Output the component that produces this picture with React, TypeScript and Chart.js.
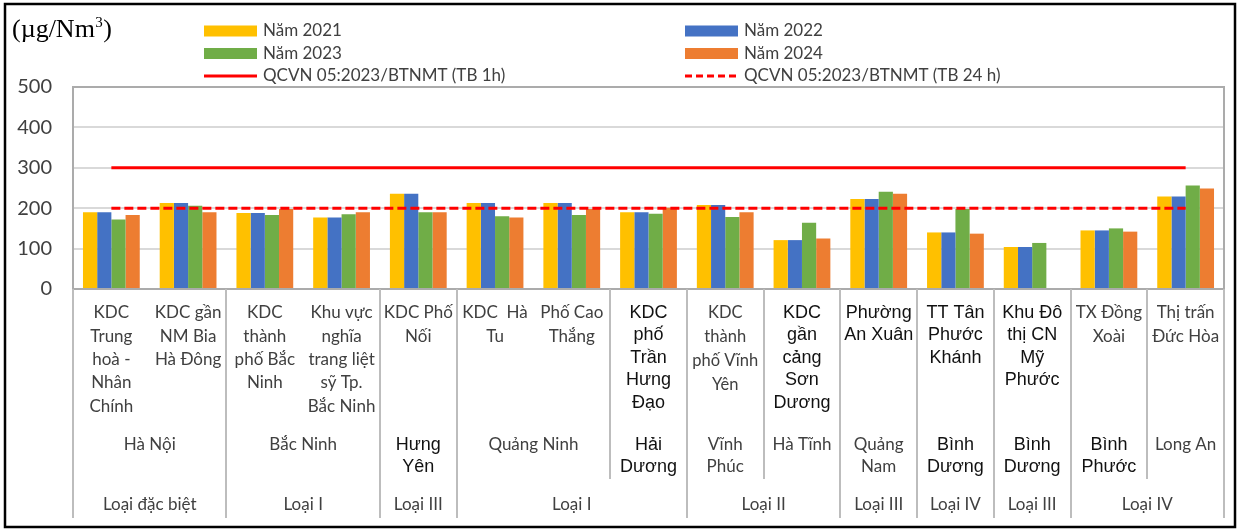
import React, { useEffect, useRef } from 'react';
import { Chart, registerables } from 'chart.js';

Chart.register(...registerables);

// ---------------- DATA ----------------
const siteLabels: string[][] = [
  ['KDC', 'Trung', 'hoà -', 'Nhân', 'Chính'],
  ['KDC gần', 'NM Bia', 'Hà Đông'],
  ['KDC', 'thành', 'phố Bắc', 'Ninh'],
  ['Khu vực', 'nghĩa', 'trang liệt', 'sỹ Tp.', 'Bắc Ninh'],
  ['KDC Phố', 'Nối'],
  ['KDC  Hà', 'Tu'],
  ['Phố Cao', 'Thắng'],
  ['KDC', 'phố', 'Trần', 'Hưng', 'Đạo'],
  ['KDC', 'thành', 'phố Vĩnh', 'Yên'],
  ['KDC', 'gần', 'cảng', 'Sơn', 'Dương'],
  ['Phường', 'An Xuân'],
  ['TT Tân', 'Phước', 'Khánh'],
  ['Khu Đô', 'thị CN', 'Mỹ', 'Phước'],
  ['TX Đồng', 'Xoài'],
  ['Thị trấn', 'Đức Hòa'],
];

const provinceNames: string[][] = [
  ['Hà Nội'], ['Bắc Ninh'], ['Hưng', 'Yên'], ['Quảng Ninh'], ['Hải', 'Dương'],
  ['Vĩnh', 'Phúc'], ['Hà Tĩnh'], ['Quảng', 'Nam'], ['Bình', 'Dương'],
  ['Bình', 'Dương'], ['Bình', 'Phước'], ['Long An'],
];
const provinceSpans = [2, 2, 1, 2, 1, 1, 1, 1, 1, 1, 1, 1];

const classNames = ['Loại đặc biệt', 'Loại I', 'Loại III', 'Loại I', 'Loại II', 'Loại III', 'Loại IV', 'Loại III', 'Loại IV'];
const classSpans = [2, 2, 1, 3, 2, 1, 1, 1, 2];

const yearLabels = ['Năm 2021', 'Năm 2022', 'Năm 2023', 'Năm 2024'];
const values2021 = [190, 213, 188, 177, 236, 213, 213, 190, 208, 121, 223, 140, 104, 145, 229];
const values2022 = [190, 213, 188, 177, 236, 213, 213, 190, 208, 121, 223, 140, 104, 145, 229];
const values2023 = [172, 206, 183, 185, 190, 180, 183, 186, 178, 164, 241, 198, 114, 150, 256];
const values2024 = [183, 190, 198, 190, 190, 177, 198, 201, 190, 125, 236, 137, null, 142, 249];

const limitLabels = ['QCVN 05:2023/BTNMT (TB 1h)', 'QCVN 05:2023/BTNMT (TB 24 h)'];
const limit1h = [300, 300, 300, 300, 300, 300, 300, 300, 300, 300, 300, 300, 300, 300, 300];
const limit24h = [200, 200, 200, 200, 200, 200, 200, 200, 200, 200, 200, 200, 200, 200, 200];

const yMin = 0;
const yMax = 500;
const yStep = 100;
const unitText = '(µg/Nm';
const unitSup = '3';
const unitClose = ')';

// ---------------- STYLE ----------------
const BAR_COLORS = ['#FFC000', '#4472C4', '#70AD47', '#ED7D31'];
const LIMIT_COLOR = '#FF0000';
const CAL = 'Lato, "Open Sans", sans-serif';
const ARI = '"Liberation Sans", Arial, sans-serif';
const TEXT_GREY = '#404040';
const siteKind = ['c', 'c', 'c', 'c', 'c', 'c', 'c', 'a', 's', 'a', 'a', 'a', 'a', 'c', 'c'];
const provinceKind = ['c', 'c', 'a', 'c', 'a', 'c', 'c', 'c', 'a', 'a', 'a', 'c'];

function fontFor(kind: string): { font: string; color: string; lh: number } {
  if (kind === 'a') return { font: `18px ${ARI}`, color: '#111111', lh: 22.5 };
  if (kind === 's') return { font: `16.5px ${CAL}`, color: TEXT_GREY, lh: 24 };
  return { font: `17px ${CAL}`, color: TEXT_GREY, lh: 23.3 };
}

const overlayPlugin = {
  id: 'overlay',
  beforeDatasetsDraw(chart: any) {
    const { ctx, chartArea: a } = chart;
    ctx.save();
    ctx.strokeStyle = '#ababab';
    ctx.lineWidth = 2;
    ctx.strokeRect(a.left, a.top, a.right - a.left, a.bottom - a.top);
    ctx.restore();
  },
  afterDraw(chart: any) {
    const { ctx, chartArea: a } = chart;
    const xs = chart.scales.x;
    const half = (xs.getPixelForValue(1) - xs.getPixelForValue(0)) / 2;
    const edge = (i: number) => xs.getPixelForValue(i) - half;
    ctx.save();

    // outer frame
    ctx.strokeStyle = '#000000';
    ctx.lineWidth = 2.5;
    ctx.strokeRect(5, 4, 1230, 523);

    // unit title
    ctx.fillStyle = '#000000';
    ctx.textBaseline = 'middle';
    ctx.textAlign = 'left';
    ctx.font = '26px "Liberation Serif", "Times New Roman", serif';
    ctx.fillText(unitText, 12, 30);
    const w = ctx.measureText(unitText).width;
    ctx.font = '15px "Liberation Serif", "Times New Roman", serif';
    ctx.fillText(unitSup, 12 + w + 0.5, 23);
    const w2 = ctx.measureText(unitSup).width;
    ctx.font = '26px "Liberation Serif", "Times New Roman", serif';
    ctx.fillText(unitClose, 12 + w + w2 + 1, 30);

    // legend
    const legendCols = [204, 685];
    const legendRows = [31, 53.5, 76];
    ctx.font = `17px ${CAL}`;
    yearLabels.forEach((lab, i) => {
      const cx = legendCols[i % 2];
      const cy = legendRows[Math.floor(i / 2)];
      ctx.fillStyle = BAR_COLORS[i];
      ctx.fillRect(cx, cy - 5.5, 53, 11);
      ctx.fillStyle = TEXT_GREY;
      ctx.fillText(lab, cx + 59, cy);
    });
    limitLabels.forEach((lab, i) => {
      const cx = legendCols[i];
      const cy = legendRows[2];
      ctx.strokeStyle = LIMIT_COLOR;
      ctx.lineWidth = 3;
      ctx.setLineDash(i === 0 ? [] : [7, 4]);
      ctx.beginPath();
      ctx.moveTo(cx, cy);
      ctx.lineTo(cx + 53, cy);
      ctx.stroke();
      ctx.setLineDash([]);
      ctx.fillStyle = TEXT_GREY;
      ctx.fillText(lab, cx + 59, cy);
    });

    // separators
    const classEdges = new Set<number>([0]);
    let acc = 0;
    classSpans.forEach((s) => { acc += s; classEdges.add(acc); });
    const provEdges = new Set<number>([0]);
    acc = 0;
    provinceSpans.forEach((s) => { acc += s; provEdges.add(acc); });
    ctx.strokeStyle = '#bdbdbd';
    ctx.lineWidth = 2;
    for (let b = 0; b <= siteLabels.length; b++) {
      let yEnd = 0;
      if (classEdges.has(b)) yEnd = 518;
      else if (provEdges.has(b)) yEnd = 479;
      if (!yEnd) continue;
      const x = Math.round(edge(b));
      ctx.beginPath();
      ctx.moveTo(x, a.bottom);
      ctx.lineTo(x, yEnd);
      ctx.stroke();
    }

    // level 1 labels
    ctx.textAlign = 'center';
    siteLabels.forEach((lines, i) => {
      const f = fontFor(siteKind[i]);
      ctx.font = f.font;
      ctx.fillStyle = f.color;
      const cx = xs.getPixelForValue(i);
      lines.forEach((t, j) => ctx.fillText(t, cx, 313 + j * f.lh));
    });

    // level 2 labels
    let start = 0;
    provinceNames.forEach((lines, i) => {
      const span = provinceSpans[i];
      const cx = (edge(start) + edge(start + span)) / 2;
      const f = fontFor(provinceKind[i]);
      ctx.font = f.font;
      ctx.fillStyle = f.color;
      lines.forEach((t, j) => ctx.fillText(t, cx, 445 + j * 22));
      start += span;
    });

    // level 3 labels
    start = 0;
    ctx.font = `17px ${CAL}`;
    ctx.fillStyle = TEXT_GREY;
    classNames.forEach((t, i) => {
      const span = classSpans[i];
      const cx = (edge(start) + edge(start + span)) / 2;
      ctx.fillText(t, cx, 505);
      start += span;
    });

    ctx.restore();
  },
};

export default function App() {
  const ref = useRef<HTMLCanvasElement | null>(null);
  useEffect(() => {
    document.body.style.margin = '0';
    const canvas = ref.current;
    if (!canvas) return;
    const barSets = [values2021, values2022, values2023, values2024].map((d, i) => ({
      type: 'bar' as const,
      label: yearLabels[i],
      data: d,
      backgroundColor: BAR_COLORS[i],
      borderWidth: 0,
      categoryPercentage: 0.74,
      barPercentage: 1.0,
      order: 1,
    }));
    const lineSets = [limit1h, limit24h].map((d, i) => ({
      type: 'line' as const,
      label: limitLabels[i],
      data: d,
      borderColor: LIMIT_COLOR,
      borderWidth: 3,
      borderDash: i === 0 ? [] : [9, 4],
      pointRadius: 0,
      fill: false,
      order: 0,
    }));
    const chart = new Chart(canvas, {
      type: 'bar',
      data: {
        labels: siteLabels.map((l) => l.join(' ')),
        datasets: [...lineSets, ...barSets] as any,
      },
      options: {
        responsive: false,
        animation: false,
        devicePixelRatio: 1,
        layout: { padding: { left: 0, top: 87, right: 18, bottom: 0 } },
        plugins: { legend: { display: false }, tooltip: { enabled: false }, title: { display: false } },
        scales: {
          x: {
            type: 'category',
            offset: true,
            grid: { display: false, drawTicks: false },
            border: { display: false },
            ticks: { display: false },
            afterFit: (s: any) => { s.height = 240; },
          },
          y: {
            min: yMin,
            max: yMax,
            ticks: {
              stepSize: yStep,
              padding: 21,
              color: TEXT_GREY,
              font: { family: CAL, size: 20 },
            },
            grid: { color: '#d9d9d9', lineWidth: 2, drawTicks: false },
            border: { display: false },
            afterFit: (s: any) => { s.width = 73; },
          },
        },
      },
      plugins: [overlayPlugin],
    });
    return () => chart.destroy();
  }, []);
  return (
    <div style={{ position: 'absolute', left: 0, top: 0, width: 1242, height: 529, background: '#ffffff' }}>
      <canvas ref={ref} width={1242} height={529} style={{ display: 'block' }} />
    </div>
  );
}
